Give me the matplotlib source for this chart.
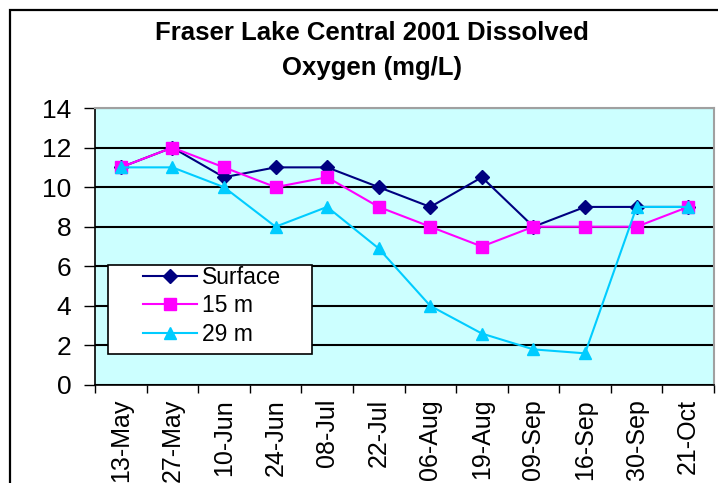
import matplotlib
matplotlib.use("Agg")
import matplotlib.pyplot as plt
from matplotlib.patches import Rectangle
import numpy as np

dates = ["13-May", "27-May", "10-Jun", "24-Jun", "08-Jul", "22-Jul",
         "06-Aug", "19-Aug", "09-Sep", "16-Sep", "30-Sep", "21-Oct"]
surface = [11, 12, 10.5, 11, 11, 10, 9, 10.5, 8, 9, 9, 9]
m15 = [11, 12, 11, 10, 10.5, 9, 8, 7, 8, 8, 8, 9]
m29 = [11, 11, 10, 8, 9, 6.9, 4, 2.6, 1.8, 1.6, 9, 9]
yticks = [0, 2, 4, 6, 8, 10, 12, 14]

plt.rcParams['font.family'] = ['Liberation Sans', 'DejaVu Sans']

W, H = 718, 483
fig = plt.figure(figsize=(W/100, H/100), dpi=100)
fig.patch.set_facecolor('white')

# outer chart border
fig.patches.append(Rectangle((10/W, -0.2), 1.2, 0.2 + (1 - 10/H),
                             transform=fig.transFigure, fill=False,
                             edgecolor='black', linewidth=1.6, zorder=0))

L, R, T, B = 95, 714, 108, 385
ax = fig.add_axes([L/W, 1 - B/H, (R - L)/W, (B - T)/H])
ax.set_facecolor('#CCFFFF')

x = np.arange(len(dates))
ax.plot(x, surface, color='#000080', marker='D', markersize=7, lw=1.5,
        label='Surface', zorder=3)
ax.plot(x, m15, color='#FF00FF', marker='s', markersize=8, lw=1.5,
        markeredgecolor='#FF00FF', markerfacecolor='#FF00FF', label='15 m', zorder=4)
ax.plot(x, m29, color='#00CCFF', marker='^', markersize=9, lw=1.5,
        label='29 m', zorder=5)

ax.set_ylim(0, 14)
ax.set_yticks(yticks)
ax.set_yticklabels([str(v) for v in yticks], fontsize=19)
ax.yaxis.grid(True, color='black', linewidth=1.5)
ax.set_axisbelow(True)

ax.set_xlim(-0.5, len(dates) - 0.5)
ax.set_xticks(x)
ax.set_xticklabels(dates, rotation=90, fontsize=18)
ax.set_xticks(np.arange(-0.5, len(dates) + 0.5, 1), minor=True)
ax.tick_params(axis='x', which='major', length=0, pad=10)
ax.tick_params(axis='x', which='minor', length=6, width=1, color='black')
ax.tick_params(axis='y', length=8, width=1, color='black', pad=9)

for s in ['top', 'right']:
    ax.spines[s].set_color('#A0A0A0')
    ax.spines[s].set_linewidth(1.5)
for s in ['left', 'bottom']:
    ax.spines[s].set_color('black')
    ax.spines[s].set_linewidth(1.2)

fig.text(372/W, 1 - 33/H, "Fraser Lake Central 2001 Dissolved",
         ha='center', va='center', fontsize=18.5, fontweight='bold')
fig.text(372/W, 1 - 68/H, "Oxygen (mg/L)",
         ha='center', va='center', fontsize=18.5, fontweight='bold')

# legend box
lx0, lx1, ly0, ly1 = 108, 312, 265, 354
ax.add_patch(Rectangle(((lx0 - L)/(R - L), (B - ly1)/(B - T)),
                       (lx1 - lx0)/(R - L), (ly1 - ly0)/(B - T),
                       transform=ax.transAxes, facecolor='white',
                       edgecolor='black', linewidth=1.2, zorder=6,
                       clip_on=False))
leg = ax.legend(loc='center left',
                bbox_to_anchor=((143 - L)/(R - L), (B - 306)/(B - T)),
                fontsize=16.5, frameon=False, borderpad=0,
                handlelength=2.35, handletextpad=0.22, labelspacing=0.23,
                borderaxespad=0)
leg.set_zorder(7)

fig.savefig("out.png", dpi=100)
